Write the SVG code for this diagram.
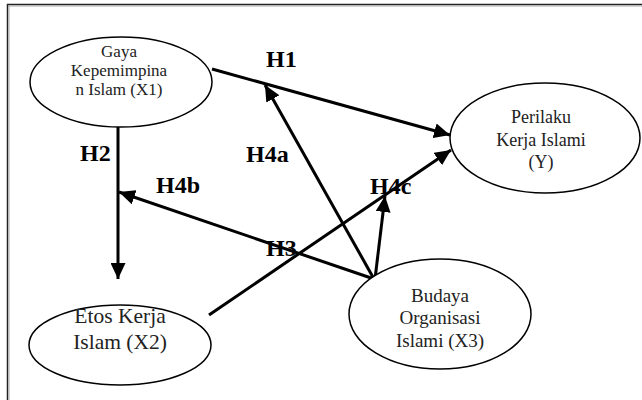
<svg xmlns="http://www.w3.org/2000/svg" width="642" height="400" viewBox="0 0 642 400">
<style>
.node ellipse{fill:#fff;stroke:#000;stroke-width:1.5}
.nt{font-family:"Liberation Serif","Times New Roman",serif;fill:#222;text-anchor:middle}
.lbl{font-family:"Liberation Serif","Times New Roman",serif;font-weight:bold;font-size:24px;fill:#000}
.edge{stroke:#000;stroke-width:3;fill:none;marker-end:url(#ah)}
</style>
<defs>
<marker id="ah" markerUnits="userSpaceOnUse" markerWidth="17" markerHeight="15" refX="16" refY="7.5" orient="auto">
<path d="M0,0 L16,7.5 L0,15 Z" fill="#000"/>
</marker>
</defs>
<rect x="0" y="0" width="642" height="400" fill="#fff"/>
<g id="frame">
<path d="M7.5,400 L7.5,4.5 L642,4.5" fill="none" stroke="#222" stroke-width="1.5"/>
<path d="M9,400 L9,6 L642,6" fill="none" stroke="#aaa" stroke-width="1"/>
</g>
<g id="connectors">
<line class="edge" x1="212" y1="69" x2="450" y2="135"/>
<line class="edge" x1="118" y1="127" x2="118" y2="279"/>
<line class="edge" x1="374" y1="279" x2="119" y2="192"/>
<line class="edge" x1="374" y1="279" x2="265" y2="85"/>
<line class="edge" x1="375" y1="279" x2="385" y2="196"/>
<line class="edge" x1="209" y1="315" x2="451" y2="150"/>
</g>
<g id="labels">
<text class="lbl" x="266" y="67">H1</text>
<text class="lbl" x="80" y="161">H2</text>
<text class="lbl" x="246" y="162">H4a</text>
<text class="lbl" x="156" y="193">H4b</text>
<text class="lbl" x="370" y="194">H4c</text>
<text class="lbl" x="266" y="256">H3</text>
</g>
<g id="x1" class="node">
<ellipse cx="121" cy="82" rx="91" ry="45"/>
<text class="nt" font-size="17"><tspan x="119" y="57">Gaya</tspan><tspan x="119" y="76">Kepemimpina</tspan><tspan x="119" y="95">n Islam (X1)</tspan></text>
</g>
<g id="y" class="node">
<ellipse cx="545" cy="138" rx="95" ry="55"/>
<text class="nt" font-size="18"><tspan x="541" y="123">Perilaku</tspan><tspan x="541" y="146">Kerja Islami</tspan><tspan x="541" y="168">(Y)</tspan></text>
</g>
<g id="x2" class="node">
<ellipse cx="120" cy="345" rx="91" ry="40"/>
<text class="nt" font-size="21.5"><tspan x="120" y="323">Etos Kerja</tspan><tspan x="120" y="349">Islam (X2)</tspan></text>
</g>
<g id="x3" class="node">
<ellipse cx="440" cy="314" rx="91" ry="55"/>
<text class="nt" font-size="19"><tspan x="440" y="302">Budaya</tspan><tspan x="440" y="324">Organisasi</tspan><tspan x="440" y="347">Islami (X3)</tspan></text>
</g>
</svg>
